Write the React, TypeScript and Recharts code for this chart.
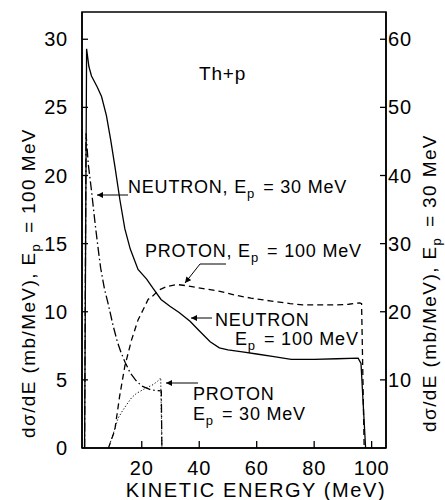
import React from 'react';
import { LineChart, Line, XAxis, YAxis, ReferenceArea } from 'recharts';

const FONT = '"Liberation Sans", Arial, Helvetica, sans-serif';

// Neutron spectrum, Ep = 100 MeV (left axis, mb/MeV)
const neutron100Energy = [0.1, 0.8, 1.6, 2.5, 3.5, 4.5, 6.0, 7.7, 9.2, 10.7, 12.4, 14.1, 16.0, 18.7, 21.7, 24.0, 26.7, 29.8, 33.0, 36.8, 40.0, 43.8, 47.0, 50.0, 55.0, 60.0, 66.0, 72.0, 80.0, 88.0, 95.3, 96.3, 97.9];
const neutron100Sigma = [0, 29.3, 28.0, 27.3, 26.9, 26.5, 25.8, 24.4, 22.6, 20.6, 18.2, 16.1, 14.6, 13.1, 12.4, 11.7, 10.9, 10.4, 9.95, 9.3, 8.6, 7.8, 7.35, 7.2, 7.05, 6.9, 6.7, 6.5, 6.5, 6.55, 6.6, 6.2, 0];

// Proton spectrum, Ep = 100 MeV (left axis)
const proton100Energy = [8.4, 10.6, 12.3, 14.1, 16.4, 18.7, 20.6, 22.2, 24.0, 26.0, 28.7, 32.2, 36.0, 41.4, 47.2, 53.0, 58.0, 64.6, 71.6, 76.0, 82.0, 88.0, 92.0, 95.9, 96.5, 97.4];
const proton100Sigma = [0, 1.3, 3.8, 6.0, 7.9, 9.4, 10.2, 10.9, 11.2, 11.6, 11.85, 12.0, 11.9, 11.7, 11.5, 11.2, 11.0, 10.8, 10.6, 10.5, 10.5, 10.5, 10.55, 10.65, 10.6, 0];

// Neutron spectrum, Ep = 30 MeV (right axis)
const neutron30Energy = [0.1, 0.6, 1.4, 2.5, 3.8, 4.9, 5.7, 7.0, 8.4, 10.0, 11.5, 12.8, 14.2, 16.0, 18.0, 20.0, 23.3, 26.8, 27.0];
const neutron30Sigma = [0, 46.2, 41.6, 37.8, 32.8, 29.0, 26.4, 23.4, 21.0, 18.0, 15.6, 14.0, 12.6, 11.0, 9.9, 9.1, 8.5, 8.4, 0];

// Proton spectrum, Ep = 30 MeV (right axis)
const proton30Energy = [8.4, 10.0, 11.8, 13.2, 14.8, 16.5, 18.1, 21.0, 23.9, 25.5, 26.6, 27.0];
const proton30Sigma = [0, 2.0, 4.4, 5.4, 6.4, 7.4, 8.0, 8.7, 9.3, 9.8, 10.3, 0];

const xTicks = [20, 40, 60, 80, 100];
const leftTicks = [0, 5, 10, 15, 20, 25, 30];
const rightTicks = [10, 20, 30, 40, 50, 60];

const toPoints = (xs: number[], ys: number[]) => xs.map((x, i) => ({ x, y: ys[i] }));

const neutron100 = toPoints(neutron100Energy, neutron100Sigma);
const proton100 = toPoints(proton100Energy, proton100Sigma);
const neutron30 = toPoints(neutron30Energy, neutron30Sigma);
const proton30 = toPoints(proton30Energy, proton30Sigma);

const LEFT_MARGIN = 14;
const RIGHT_MARGIN = 2;
const X_MARGIN = 8;

const LeftTick = (props: any) => {
  const { x, y, payload } = props;
  const ax = x + LEFT_MARGIN;
  return (
    <g>
      {payload.value !== 0 && <line x1={ax} x2={ax + 6} y1={y} y2={y} stroke="#000" strokeWidth={1.3} />}
      <text x={x} y={y + 7} textAnchor="end" fontSize={20} letterSpacing={0.8} fontFamily={FONT} fill="#000">{payload.value}</text>
    </g>
  );
};

const RightTick = (props: any) => {
  const { x, y, payload } = props;
  const ax = x - RIGHT_MARGIN;
  return (
    <g>
      <line x1={ax} x2={ax - 6} y1={y} y2={y} stroke="#000" strokeWidth={1.3} />
      <text x={x} y={y + 7} textAnchor="start" fontSize={20} letterSpacing={0.8} fontFamily={FONT} fill="#000">{payload.value}</text>
    </g>
  );
};

const BottomTick = (props: any) => {
  const { x, y, payload } = props;
  const ay = y - X_MARGIN;
  return (
    <g>
      <line x1={x} x2={x} y1={ay} y2={ay - 7} stroke="#000" strokeWidth={1.3} />
      <text x={x} y={y + 19} textAnchor="middle" fontSize={20} letterSpacing={0.8} fontFamily={FONT} fill="#000">{payload.value}</text>
    </g>
  );
};

const Sub = ({ s }: { s: string }) => (
  <>
    <tspan dy={5} fontSize={13}>{s}</tspan>
    <tspan dy={-5}>{'\u200a'}</tspan>
  </>
);

export default function App() {
  const txt = { fontFamily: FONT, fill: '#000' } as const;
  return (
    <div style={{ position: 'absolute', left: 0, top: 0, background: '#fff' }}>
      <LineChart width={445} height={500} margin={{ top: 12, right: 0, bottom: 0, left: 0 }}>
        <defs>
          <marker id="arr" viewBox="0 0 10 10" refX="10" refY="5" markerWidth="7" markerHeight="6" orient="auto-start-reverse" markerUnits="userSpaceOnUse">
            <path d="M0,0 L10,5 L0,10 z" fill="#000" />
          </marker>
        </defs>
        <XAxis
          dataKey="x"
          type="number"
          domain={[-0.8, 105]}
          ticks={xTicks}
          interval={0}
          allowDataOverflow
          height={52}
          tickSize={0}
          tickLine={false}
          tickMargin={X_MARGIN}
          axisLine={{ stroke: '#000', strokeWidth: 1.5 }}
          tick={BottomTick}
        />
        <YAxis
          yAxisId="left"
          type="number"
          domain={[0, 32]}
          ticks={leftTicks}
          interval={0}
          allowDataOverflow
          width={82}
          tickSize={0}
          tickLine={false}
          tickMargin={LEFT_MARGIN}
          axisLine={{ stroke: '#000', strokeWidth: 1.5 }}
          tick={LeftTick}
        />
        <YAxis
          yAxisId="right"
          orientation="right"
          type="number"
          domain={[0, 64]}
          ticks={rightTicks}
          interval={0}
          allowDataOverflow
          width={59}
          tickSize={0}
          tickLine={false}
          tickMargin={RIGHT_MARGIN}
          axisLine={{ stroke: '#000', strokeWidth: 1.5 }}
          tick={RightTick}
        />
        <ReferenceArea yAxisId="left" x1={-0.8} x2={105} y1={0} y2={32} fill="none" stroke="#000" strokeWidth={1.5} ifOverflow="visible" />
        <Line yAxisId="left" data={neutron100} dataKey="y" type="linear" stroke="#000" strokeWidth={1.3} dot={false} activeDot={false} isAnimationActive={false} />
        <Line yAxisId="left" data={proton100} dataKey="y" type="linear" stroke="#000" strokeWidth={1.3} strokeDasharray="6 4" dot={false} activeDot={false} isAnimationActive={false} />
        <Line yAxisId="right" data={neutron30} dataKey="y" type="linear" stroke="#000" strokeWidth={1.3} strokeDasharray="9 3 1.5 3" dot={false} activeDot={false} isAnimationActive={false} />
        <Line yAxisId="right" data={proton30} dataKey="y" type="linear" stroke="#000" strokeWidth={1} strokeDasharray="1.2 2" dot={false} activeDot={false} isAnimationActive={false} />

        <g>
          <text x={199} y={80} fontSize={19} letterSpacing={0.8} {...txt}>Th+p</text>

          <text x={128} y={193} fontSize={18} letterSpacing={0.8} {...txt}>NEUTRON, E<Sub s="p" /> = 30 MeV</text>
          <line x1={128} y1={195} x2={97} y2={195} stroke="#000" strokeWidth={1} markerEnd="url(#arr)" />

          <text x={145} y={257} fontSize={18} letterSpacing={0.8} {...txt}>PROTON, E<Sub s="p" /> = 100 MeV</text>
          <polyline points="226,264 200,264 185,283" fill="none" stroke="#000" strokeWidth={1} markerEnd="url(#arr)" />

          <text x={215} y={326} fontSize={18} letterSpacing={0.8} {...txt}>NEUTRON</text>
          <text x={235} y={345} fontSize={18} letterSpacing={0.8} {...txt}>E<Sub s="p" /> = 100 MeV</text>
          <line x1={212} y1={318} x2={191} y2={318} stroke="#000" strokeWidth={1} markerEnd="url(#arr)" />

          <text x={193} y={400} fontSize={18} letterSpacing={0.8} {...txt}>PROTON</text>
          <text x={193} y={420} fontSize={18} letterSpacing={0.8} {...txt}>E<Sub s="p" /> = 30 MeV</text>
          <line x1={198} y1={383} x2={166} y2={383} stroke="#000" strokeWidth={1} markerEnd="url(#arr)" />

          <text x={256} y={497} textAnchor="middle" fontSize={20} letterSpacing={1.6} {...txt}>KINETIC ENERGY (MeV)</text>

          <text x={35} y={283} transform="rotate(-90, 35, 283)" textAnchor="middle" fontSize={19} letterSpacing={1.4} {...txt}>
            dσ/dE (mb/MeV),  E<Sub s="p" /> = 100 MeV
          </text>
          <text x={436} y={283} transform="rotate(-90, 436, 283)" textAnchor="middle" fontSize={19} letterSpacing={1.4} {...txt}>
            dσ/dE (mb/MeV), E<Sub s="p" /> = 30 MeV
          </text>
        </g>
      </LineChart>
    </div>
  );
}
